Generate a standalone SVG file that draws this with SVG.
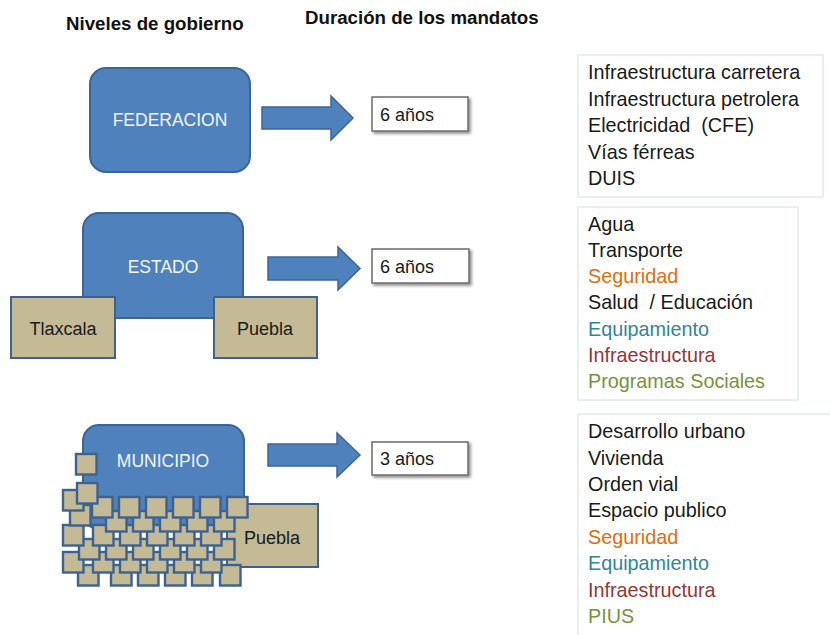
<svg xmlns="http://www.w3.org/2000/svg" width="830" height="635" viewBox="0 0 830 635">
<defs>
  <style>
    text { font-family: "Liberation Sans", Arial, sans-serif; white-space: pre; }
    .title { font-size: 18.7px; font-weight: bold; fill: #111; }
    .blue { fill: #4F81BD; stroke: #3C6595; stroke-width: 2; }
    .tan { fill: #C4BB96; stroke: #3E6190; stroke-width: 2; }
    .sqs { fill: #C4BB96; stroke: #3E6190; stroke-width: 2.4; }
    .lbl { font-size: 17.5px; fill: #F4F6FA; text-anchor: middle; }
    .tlbl { font-size: 18px; fill: #1a1a1a; text-anchor: middle; }
    .arrow { fill: #4F81BD; stroke: #3C6595; stroke-width: 1.5; }
    .yr { fill: #fff; stroke: #6b6b6b; stroke-width: 1.5; }
    .yrt { font-size: 18px; fill: #1a1a1a; }
    .list { fill: #fff; stroke: #dde2e8; stroke-width: 1.2; }
    .li { font-size: 19.8px; fill: #1a1a1a; }
    .or { fill: #E46C0A; }
    .te { fill: #31859C; }
    .rd { fill: #953735; }
    .gr { fill: #77933C; }
  </style>
  <filter id="sh" x="-20%" y="-30%" width="150%" height="170%">
    <feDropShadow dx="2" dy="2" stdDeviation="1.5" flood-color="#000" flood-opacity="0.45"/>
  </filter>
  <rect id="sq" width="20.5" height="20.5"/>
</defs>

<rect width="830" height="635" fill="#fff"/>

<g id="titles">
  <text class="title" x="66" y="30">Niveles de gobierno</text>
  <text class="title" x="305" y="24">Duración de los mandatos</text>
</g>

<g id="federacion">
  <rect class="blue" x="90" y="68" width="160" height="104" rx="16"/>
  <text class="lbl" x="170" y="126">FEDERACION</text>
</g>

<g id="estado">
  <rect class="blue" x="83" y="213" width="160" height="105" rx="16"/>
  <text class="lbl" x="163" y="273">ESTADO</text>
</g>
<g id="tlaxcala">
  <rect class="tan" x="11" y="297" width="104" height="61"/>
  <text class="tlbl" x="63" y="335">Tlaxcala</text>
</g>
<g id="puebla-estado">
  <rect class="tan" x="214" y="297" width="103" height="61"/>
  <text class="tlbl" x="265" y="335">Puebla</text>
</g>

<g id="municipio">
  <rect class="blue" x="83" y="425" width="161" height="104" rx="16"/>
  <text class="lbl" x="163" y="467">MUNICIPIO</text>
</g>
<g id="puebla-municipio">
  <rect class="tan" x="227" y="504" width="91" height="63"/>
  <text class="tlbl" x="272" y="544">Puebla</text>
</g>
<g id="localidades" class="sqs">
  <use href="#sq" x="78" y="565"/><use href="#sq" x="111" y="565"/><use href="#sq" x="138" y="565"/><use href="#sq" x="165" y="565"/><use href="#sq" x="192" y="565"/><use href="#sq" x="220" y="565"/>
  <use href="#sq" x="63" y="552"/><use href="#sq" x="93" y="552"/><use href="#sq" x="120" y="552"/><use href="#sq" x="147" y="552"/><use href="#sq" x="174" y="552"/><use href="#sq" x="201" y="552"/>
  <use href="#sq" x="79" y="539"/><use href="#sq" x="106" y="539"/><use href="#sq" x="133" y="539"/><use href="#sq" x="160" y="539"/><use href="#sq" x="187" y="539"/><use href="#sq" x="214" y="539"/>
  <use href="#sq" x="63" y="525"/><use href="#sq" x="93" y="525"/><use href="#sq" x="120" y="525"/><use href="#sq" x="147" y="525"/><use href="#sq" x="174" y="525"/><use href="#sq" x="201" y="525"/>
  <use href="#sq" x="106" y="511"/><use href="#sq" x="133" y="511"/><use href="#sq" x="160" y="511"/><use href="#sq" x="187" y="511"/><use href="#sq" x="214" y="511"/>
  <use href="#sq" x="70" y="505"/>
  <use href="#sq" x="92" y="497"/><use href="#sq" x="119" y="497"/><use href="#sq" x="146" y="497"/><use href="#sq" x="173" y="497"/><use href="#sq" x="200" y="497"/><use href="#sq" x="227" y="497"/>
  <use href="#sq" x="63" y="490"/>
  <use href="#sq" x="77" y="483"/>
  <use href="#sq" x="76" y="454"/>
</g>

<g id="connectors">
  <path class="arrow" d="M262 107 H331 V96 L353 118 L331 140 V129 H262 Z"/>
  <path class="arrow" d="M268 257 H338 V247 L360 268.5 L338 290 V280 H268 Z"/>
  <path class="arrow" d="M268 444 H337 V433 L360 455 L337 477 V466 H268 Z"/>
</g>

<g id="dur-federacion">
  <rect class="yr" x="372" y="97" width="96" height="34" filter="url(#sh)"/>
  <text class="yrt" x="380" y="121">6 años</text>
</g>
<g id="dur-estado">
  <rect class="yr" x="372" y="249" width="97" height="34" filter="url(#sh)"/>
  <text class="yrt" x="380" y="273">6 años</text>
</g>
<g id="dur-municipio">
  <rect class="yr" x="372" y="442" width="96" height="33" filter="url(#sh)"/>
  <text class="yrt" x="380" y="465">3 años</text>
</g>

<g id="competencias-federacion">
  <rect class="list" x="578" y="55" width="245" height="142"/>
  <text class="li" x="588" y="79">Infraestructura carretera</text>
  <text class="li" x="588" y="105.5">Infraestructura petrolera</text>
  <text class="li" x="588" y="132">Electricidad  (CFE)</text>
  <text class="li" x="588" y="158.5">Vías férreas</text>
  <text class="li" x="588" y="185">DUIS</text>
</g>

<g id="competencias-estado">
  <rect class="list" x="578" y="207" width="220" height="193"/>
  <text class="li" x="588" y="231">Agua</text>
  <text class="li" x="588" y="257">Transporte</text>
  <text class="li or" x="588" y="283">Seguridad</text>
  <text class="li" x="588" y="309">Salud  / Educación</text>
  <text class="li te" x="588" y="336">Equipamiento</text>
  <text class="li rd" x="588" y="362">Infraestructura</text>
  <text class="li gr" x="588" y="388">Programas Sociales</text>
</g>

<g id="competencias-municipio">
  <rect class="list" x="578" y="414" width="262" height="240"/>
  <text class="li" x="588" y="438">Desarrollo urbano</text>
  <text class="li" x="588" y="464.5">Vivienda</text>
  <text class="li" x="588" y="491">Orden vial</text>
  <text class="li" x="588" y="517">Espacio publico</text>
  <text class="li or" x="588" y="543.5">Seguridad</text>
  <text class="li te" x="588" y="570">Equipamiento</text>
  <text class="li rd" x="588" y="596.5">Infraestructura</text>
  <text class="li gr" x="588" y="623">PIUS</text>
</g>
</svg>
